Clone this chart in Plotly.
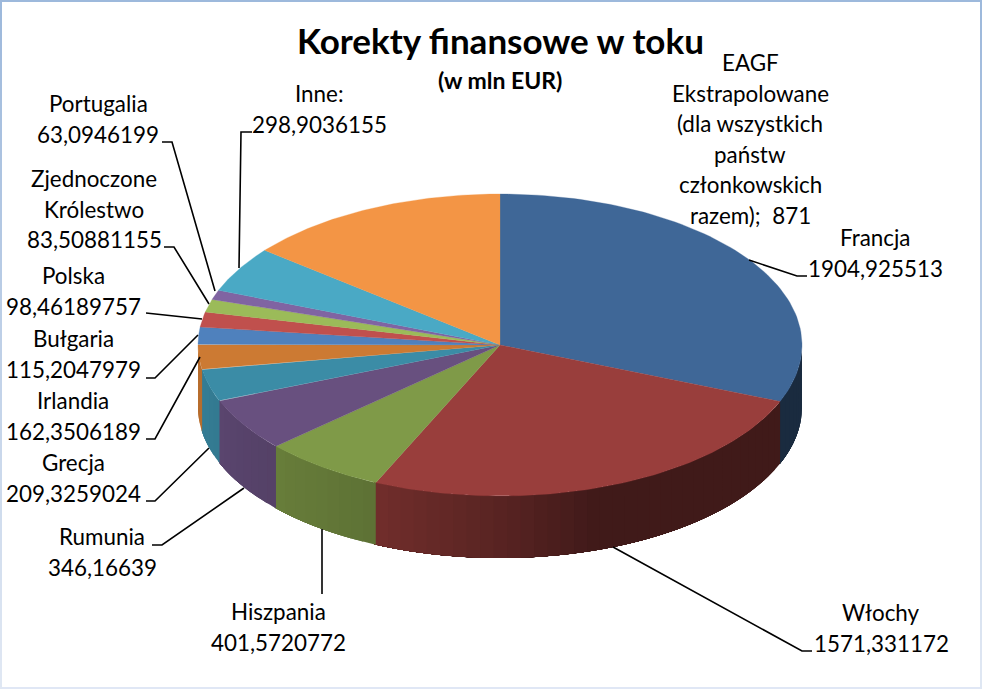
import numpy as np
import plotly.graph_objects as go

# Dane
kraje = ["Francja", "Włochy", "Hiszpania", "Rumunia", "Grecja", "Irlandia", "Bułgaria",
         "Polska", "Zjednoczone<br>Królestwo", "Portugalia", "Inne:",
         "EAGF<br>Ekstrapolowane<br>(dla wszystkich<br>państw<br>członkowskich<br>razem); "]
wartosci = [1904.925513, 1571.331172, 401.5720772, 346.16639, 209.3259024, 162.3506189,
            115.2047979, 98.46189757, 83.50881155, 63.0946199, 298.9036155, 871]

# Kolory
kolory = ["#3f6797", "#993e3c", "#7f9a48", "#68507f", "#3b8ca6", "#cc7a33",
          "#4f81bd", "#c0504d", "#9bbb59", "#8064a2", "#4aa9c5", "#f39545"]

# Geometria wykresu (piksele)
cx, cy, rx, ry, glebokosc = 500, 345, 302, 151, 62

# srodek etykiety (x, y pierwszej linii)
pozycje = [(875, 237.5), (881, 612.5), (278, 611.5), (102, 536.5), (73, 462.5), (73, 400.5), (73, 338.5),
           (73, 275.5), (94, 178.5), (98, 103.5), (319, 93.5), (750, 62.5)]
skok = 30.6

linie = [[(749, 260), (797, 276), (807, 276)],
         [(613, 547), (802, 651), (812, 651)],
         [(322, 529), (322, 594)],
         [(244, 488), (162, 545), (152, 545)],
         [(209, 448), (155, 501), (146, 501)],
         [(200, 357), (155, 439), (146, 439)],
         [(198, 335), (155, 378), (146, 378)],
         [(202, 319), (155, 313.5), (146, 313)],
         [(209, 304), (174, 247), (164, 247)],
         [(215, 291), (172, 142), (162, 142)],
         [(239, 268), (241, 132), (252, 132)]]


def punkty(kat, dy=0):
    t = np.radians(kat)
    return cx + rx * np.sin(t), cy - ry * np.cos(t) + dy


def przyciemnij(kolor, f):
    r, g, b = [int(kolor[i:i + 2], 16) for i in (1, 3, 5)]
    return "rgb(%d,%d,%d)" % (r * f, g * f, b * f)


fig = go.Figure()

granice = np.concatenate([[0], np.cumsum(wartosci)]) / sum(wartosci) * 360

# Bok tortu - kazdy pasek siega do konca kawalka, zeby nie bylo szczelin
for i, kolor in enumerate(kolory):
    a = max(granice[i], 90)
    b = min(granice[i + 1], 270)
    if a >= b:
        continue
    n = max(int((b - a) / 2.5), 1)
    kroki = np.linspace(a, b, n + 1)
    for k0, k1 in zip(kroki[:-1], kroki[1:]):
        kk = np.linspace(k0, b + 0.3, 40)
        x0, y0 = punkty(kk)
        x1, y1 = punkty(kk[::-1], glebokosc)
        u = np.sin(np.radians((k0 + k1) / 2))
        f = np.interp(u, [-1, -0.85, -0.41, 0, 0.33, 1], [0.9, 0.84, 0.74, 0.58, 0.42, 0.42])
        fig.add_trace(go.Scatter(x=np.concatenate([x0, x1]), y=np.concatenate([y0, y1]),
                                 mode="none", fill="toself", fillcolor=przyciemnij(kolor, f),
                                 hoverinfo="skip"))

# Gorna powierzchnia
for i, kolor in enumerate(kolory):
    kk = np.linspace(granice[i], granice[i + 1], 80)
    x, y = punkty(kk)
    fig.add_trace(go.Scatter(x=np.concatenate([[cx], x, [cx]]), y=np.concatenate([[cy], y, [cy]]),
                             mode="lines", fill="toself", fillcolor=kolor,
                             line=dict(color=kolor, width=0.3), hoverinfo="skip"))

# Linie odniesienia
for l in linie:
    fig.add_trace(go.Scatter(x=[p[0] for p in l], y=[p[1] for p in l], mode="lines",
                             line=dict(color="black", width=1.6), hoverinfo="skip"))


def napis(x, y, tekst, rozmiar=22.4, pogrubiony=False):
    if pogrubiony:
        tekst = "<b>" + tekst + "</b>"
    fig.add_annotation(x=x, y=y, text=tekst, showarrow=False, xanchor="center", yanchor="middle",
                       font=dict(family="Lato", size=rozmiar, color="black"))


# Etykiety
for nazwa, w, (x, y) in zip(kraje, wartosci, pozycje):
    wiersze = nazwa.split("<br>")
    if nazwa.endswith("; "):
        wiersze[-1] = wiersze[-1] + " " + str(w)
    else:
        wiersze.append(str(w).replace(".", ","))
    for j, t in enumerate(wiersze):
        napis(x, y + j * skok, t)

napis(500, 40, "Korekty finansowe w toku", 35, True)
napis(500, 79.5, "(w mln EUR)", 23, True)

# Ramka
fig.add_shape(type="line", x0=0, x1=982, y0=1, y1=1, line=dict(color="#9db9dc", width=2))
fig.add_shape(type="line", x0=0, x1=982, y0=688, y1=688, line=dict(color="#e0e7f5", width=2))
for j in range(34):
    c = "rgb(%d,%d,%d)" % (157 + j * 2, 185 + j * 1.4, 220 + j * 0.7)
    for xr in (1, 981):
        fig.add_shape(type="line", x0=xr, x1=xr, y0=j * 20, y1=(j + 1) * 20 + 9 * (j == 33),
                      line=dict(color=c, width=2))

fig.update_layout(width=982, height=689, margin=dict(l=0, r=0, t=0, b=0), showlegend=False,
                  plot_bgcolor="white", paper_bgcolor="white",
                  xaxis=dict(range=[0, 982], visible=False, fixedrange=True),
                  yaxis=dict(range=[689, 0], visible=False, fixedrange=True))

fig.write_html("out.html", config=dict(displayModeBar=False),
               post_script="document.body.style.margin='0';")
